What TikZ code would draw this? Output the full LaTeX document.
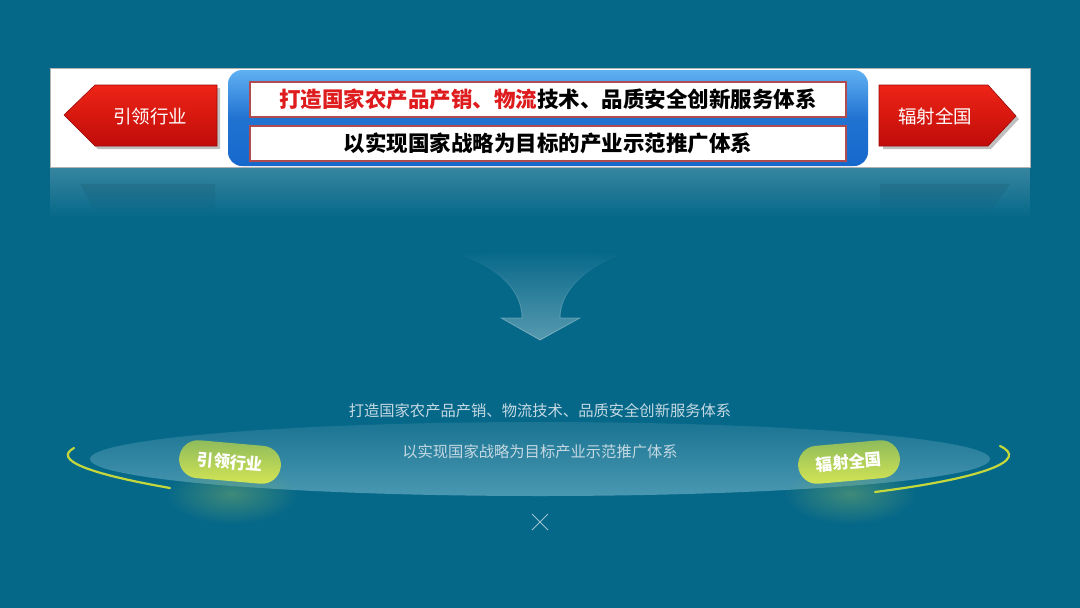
\documentclass[tikz,border=0pt]{standalone}
\usepackage{fontspec}
\newfontfamily\cjk{Noto Sans CJK SC}
\usetikzlibrary{fadings}
\tikzfading[name=softglow, inner color=transparent!0, outer color=transparent!100]
\definecolor{bg}{RGB}{6,104,137}
\definecolor{redA}{RGB}{238,36,22}
\definecolor{redB}{RGB}{192,12,10}
\definecolor{blueA}{RGB}{96,176,242}
\definecolor{blueB}{RGB}{22,104,204}
\definecolor{boxline}{RGB}{176,76,80}
\definecolor{redtxt}{RGB}{222,28,30}
\definecolor{paleTxt}{RGB}{196,216,226}
\definecolor{pillA}{RGB}{140,186,92}
\definecolor{pillB}{RGB}{214,230,84}
\definecolor{arcc}{RGB}{196,216,60}
\definecolor{platB}{RGB}{74,152,178}
\tikzset{
  inbox/.style={draw=boxline, line width=2pt, fill=white, minimum width=596pt, minimum height=35pt, inner sep=0pt, font=\cjk\bfseries\fontsize{21.5}{24}\selectfont},
  redarrow/.style={top color=redA, bottom color=redB, draw=redB!80!black, line width=0.6pt},
  arrowtxt/.style={text=white, font=\cjk\fontsize{18.5}{22}\selectfont, inner sep=0pt},
  pill/.style={rounded corners=19pt, minimum width=102pt, minimum height=38pt, top color=pillA, bottom color=pillB, text=white, font=\cjk\bfseries\fontsize{16.5}{20}\selectfont, inner sep=0pt},
  paletext/.style={text=paleTxt, font=\cjk\fontsize{15.3}{18}\selectfont, inner sep=0pt},
  arcline/.style={draw=arcc, line width=2.2pt, line cap=round},
  xline/.style={draw=paleTxt!80!bg, line width=0.9pt},
  glow/.style={fill=pillB!50!bg, opacity=0.55, path fading=softglow}
}
\begin{document}
\begin{tikzpicture}[x=1pt,y=-1pt]
\useasboundingbox (0,0) rectangle (1080,608);
\fill[bg] (0,0) rectangle (1080,608);

% reflection under the banner
\fill[white, opacity=0.2, path fading=south] (50,167) rectangle (1030,218);
\fill[black, opacity=0.08, path fading=south] (80,184) -- (215,184) -- (215,212) -- (95,212) -- cycle;
\fill[black, opacity=0.08, path fading=south] (880,184) -- (1010,184) -- (990,212) -- (880,212) -- cycle;

% banner
\fill[white, draw=gray!60, line width=0.5pt] (50,68) rectangle (1030,167);
\shade[top color=blueA, bottom color=blueB, middle color=blueB!85!blueA, rounded corners=14pt] (228,70) rectangle (868,166);

\node[inbox] (t1) at (548,99.5) {{\color{redtxt}打造国家农产品产销、物流}技术、品质安全创新服务体系};
\node[inbox] (t2) at (548,143) {以实现国家战略为目标的产业示范推广体系};

% red arrows
\fill[black, opacity=0.25] (67,118) -- (98,88) -- (220,88) -- (220,149) -- (98,149) -- cycle;
\path[redarrow] (64,115) -- (95,85) -- (217,85) -- (217,146) -- (95,146) -- cycle;
\node[arrowtxt] (lead) at (150,116) {引领行业};
\fill[black, opacity=0.25] (883,88) -- (991,88) -- (1019,119) -- (991,149) -- (883,149) -- cycle;
\path[redarrow] (879,85) -- (988,85) -- (1016,116) -- (988,146) -- (879,146) -- cycle;
\node[arrowtxt] (rad) at (935,116) {辐射全国};

% middle down arrow
\fill[white!60!bg, opacity=0.55, path fading=north]
  (462,256) .. controls (500,268) and (522,292) .. (522,318) -- (501,318) -- (540,340) -- (580,318) -- (560,318)
  .. controls (560,292) and (584,268) .. (618,256) .. controls (580,250) and (500,250) .. (462,256) -- cycle;
\draw[white, opacity=0.35, line width=0.8pt, path fading=north]
  (462,256) .. controls (500,268) and (522,292) .. (522,318) -- (501,318) -- (540,340) -- (580,318) -- (560,318)
  .. controls (560,292) and (584,268) .. (618,256);

% platform
\shade[top color=bg!92!white, bottom color=platB] (540,459) ellipse (450pt and 37pt);

% glows
\fill[glow] (232,494) ellipse (66pt and 30pt);
\fill[glow] (850,494) ellipse (66pt and 30pt);

\draw[arcline] (74,448) .. controls (52,460) and (90,474) .. (170,488);
\draw[arcline] (1000,446) .. controls (1030,460) and (985,478) .. (875,492);

% texts
\node[paletext] (s1) at (540,411) {打造国家农产品产销、物流技术、品质安全创新服务体系};
\node[paletext] (s2) at (540,452) {以实现国家战略为目标产业示范推广体系};

% pills
\node[pill, rotate=-5] (p1) at (230,462) {引领行业};
\node[pill, rotate=5] (p2) at (849,462) {辐射全国};

% x mark
\coordinate (xa) at (532,514); \coordinate (xb) at (548,530);
\coordinate (xc) at (548,514); \coordinate (xd) at (532,530);
\draw[xline] (xa) -- (xb);
\draw[xline] (xc) -- (xd);
\end{tikzpicture}
\end{document}
